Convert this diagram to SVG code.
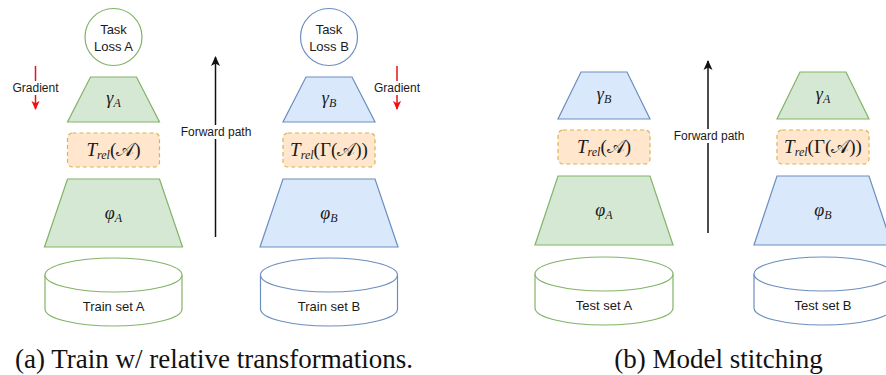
<svg xmlns="http://www.w3.org/2000/svg" width="886" height="375" viewBox="0 0 886 375">
<defs>
<style>
.g{fill:#d5e8d4;stroke:#82b366;stroke-width:1.2}
.b{fill:#dae8fc;stroke:#6c8ebf;stroke-width:1.2}
.o{fill:#ffe6cc;stroke:#d6b656;stroke-width:1.2;stroke-dasharray:4 3}
.cg{fill:#ffffff;stroke:#82b366;stroke-width:1.2}
.cb{fill:#ffffff;stroke:#6c8ebf;stroke-width:1.2}
.lbl{font-family:"Liberation Sans",Arial,sans-serif;font-size:13px;fill:#1a1a1a;text-anchor:middle}
.sm{font-family:"Liberation Sans",Arial,sans-serif;font-size:12px;fill:#1a1a1a;text-anchor:middle}
.m{font-family:"Liberation Serif","DejaVu Serif",serif;fill:#1a1a1a;text-anchor:middle}
.cap{font-family:"Liberation Serif","Times New Roman",serif;font-size:27px;fill:#111;text-anchor:middle}
.fwd{stroke:#111;stroke-width:1.5;fill:none}
.grd{stroke:#ee1111;stroke-width:1.5;fill:none}
</style>
<marker id="ak" viewBox="0 0 10 10" refX="9" refY="5" markerWidth="10" markerHeight="10" markerUnits="userSpaceOnUse" orient="auto">
<path d="M0,0.5 L10,5 L0,9.5 L2.5,5 z" fill="#111"/>
</marker>
<marker id="ar" viewBox="0 0 10 10" refX="9" refY="5" markerWidth="9" markerHeight="9" markerUnits="userSpaceOnUse" orient="auto">
<path d="M0,0.5 L10,5 L0,9.5 L2.5,5 z" fill="#ee1111"/>
</marker>
</defs>
<rect width="886" height="375" fill="#ffffff"/>

<g id="connectors">
<line class="fwd" x1="215.5" y1="237" x2="215.5" y2="57" marker-end="url(#ak)"/>
<rect x="180" y="125" width="72" height="14" fill="#ffffff"/>
<text class="sm" x="216" y="136">Forward path</text>
<line class="fwd" x1="708" y1="233" x2="708" y2="61" marker-end="url(#ak)"/>
<rect x="672" y="129" width="74" height="14" fill="#ffffff"/>
<text class="sm" x="709" y="140">Forward path</text>
<line class="grd" x1="35.5" y1="66" x2="35.5" y2="109" marker-end="url(#ar)"/>
<rect x="11" y="81" width="49" height="14" fill="#ffffff"/>
<text class="sm" x="35.5" y="92">Gradient</text>
<line class="grd" x1="397" y1="66" x2="397" y2="109" marker-end="url(#ar)"/>
<rect x="372" y="81" width="50" height="14" fill="#ffffff"/>
<text class="sm" x="397" y="92">Gradient</text>
</g>

<!-- Panel (a), column A -->
<g id="taskLossA">
<circle class="cg" cx="113.5" cy="37" r="28.5"/>
<text class="lbl" x="113.5" y="33.5">Task</text>
<text class="lbl" x="113.5" y="50.5">Loss A</text>
</g>
<g id="gammaA_train">
<polygon class="g" points="90.5,77 136.5,77 159.5,122 67.5,122"/>
<text class="m" x="113.5" y="104"><tspan font-size="18" font-style="italic">γ</tspan><tspan font-size="12" font-style="italic" dy="3">A</tspan></text>
</g>
<g id="trelA_train">
<rect class="o" x="67.5" y="133" width="92" height="34" rx="5"/>
<text class="m" x="113.5" y="156"><tspan font-size="19" font-style="italic">T</tspan><tspan font-size="12" font-style="italic" dy="3">rel</tspan><tspan font-size="19" dy="-3">(𝒜)</tspan></text>
</g>
<g id="phiA_train">
<polygon class="g" points="67.5,179 159.5,179 182.5,247 44.5,247"/>
<text class="m" x="113.5" y="219"><tspan font-size="18" font-style="italic">φ</tspan><tspan font-size="12" font-style="italic" dy="3">A</tspan></text>
</g>
<g id="trainSetA">
<path class="cg" d="M45,275 L45,309 A68.5,17 0 0 0 182,309 L182,275"/>
<ellipse class="cg" cx="113.5" cy="275" rx="68.5" ry="17"/>
<text class="lbl" x="113.5" y="311">Train set A</text>
</g>

<!-- Panel (a), column B -->
<g id="taskLossB">
<circle class="cb" cx="329" cy="37" r="28.5"/>
<text class="lbl" x="329" y="33.5">Task</text>
<text class="lbl" x="329" y="50.5">Loss B</text>
</g>
<g id="gammaB_train">
<polygon class="b" points="306,77 352,77 375,122 283,122"/>
<text class="m" x="329" y="104"><tspan font-size="18" font-style="italic">γ</tspan><tspan font-size="12" font-style="italic" dy="3">B</tspan></text>
</g>
<g id="trelB_train">
<rect class="o" x="283" y="133" width="92" height="34" rx="5"/>
<text class="m" x="329" y="156"><tspan font-size="19" font-style="italic">T</tspan><tspan font-size="12" font-style="italic" dy="3">rel</tspan><tspan font-size="19" dy="-3">(Γ(𝒜))</tspan></text>
</g>
<g id="phiB_train">
<polygon class="b" points="283,179 375,179 398,247 260,247"/>
<text class="m" x="329" y="219"><tspan font-size="18" font-style="italic">φ</tspan><tspan font-size="12" font-style="italic" dy="3">B</tspan></text>
</g>
<g id="trainSetB">
<path class="cb" d="M260.5,275 L260.5,309 A68.5,17 0 0 0 397.5,309 L397.5,275"/>
<ellipse class="cb" cx="329" cy="275" rx="68.5" ry="17"/>
<text class="lbl" x="329" y="311">Train set B</text>
</g>

<!-- Panel (b), left column -->
<g id="gammaB_stitch">
<polygon class="b" points="581,72 627,72 650,119 558,119"/>
<text class="m" x="604" y="100"><tspan font-size="18" font-style="italic">γ</tspan><tspan font-size="12" font-style="italic" dy="3">B</tspan></text>
</g>
<g id="trelA_stitch">
<rect class="o" x="558" y="130" width="92" height="34" rx="5"/>
<text class="m" x="604" y="153"><tspan font-size="19" font-style="italic">T</tspan><tspan font-size="12" font-style="italic" dy="3">rel</tspan><tspan font-size="19" dy="-3">(𝒜)</tspan></text>
</g>
<g id="phiA_stitch">
<polygon class="g" points="558,176 650,176 673,245 535,245"/>
<text class="m" x="604" y="216"><tspan font-size="18" font-style="italic">φ</tspan><tspan font-size="12" font-style="italic" dy="3">A</tspan></text>
</g>
<g id="testSetA">
<path class="cg" d="M535,274 L535,308 A69,17 0 0 0 673,308 L673,274"/>
<ellipse class="cg" cx="604" cy="274" rx="69" ry="17"/>
<text class="lbl" x="604" y="310">Test set A</text>
</g>

<!-- Panel (b), right column -->
<g id="gammaA_stitch">
<polygon class="g" points="800,72 846,72 869,119 777,119"/>
<text class="m" x="823" y="100"><tspan font-size="18" font-style="italic">γ</tspan><tspan font-size="12" font-style="italic" dy="3">A</tspan></text>
</g>
<g id="trelB_stitch">
<rect class="o" x="777" y="130" width="92" height="34" rx="5"/>
<text class="m" x="823" y="153"><tspan font-size="19" font-style="italic">T</tspan><tspan font-size="12" font-style="italic" dy="3">rel</tspan><tspan font-size="19" dy="-3">(Γ(𝒜))</tspan></text>
</g>
<g id="phiB_stitch">
<polygon class="b" points="777,176 869,176 892,245 754,245"/>
<text class="m" x="823" y="216"><tspan font-size="18" font-style="italic">φ</tspan><tspan font-size="12" font-style="italic" dy="3">B</tspan></text>
</g>
<g id="testSetB">
<path class="cb" d="M754,274 L754,308 A69,17 0 0 0 892,308 L892,274"/>
<ellipse class="cb" cx="823" cy="274" rx="69" ry="17"/>
<text class="lbl" x="823" y="310">Test set B</text>
</g>

<g id="captions">
<text class="cap" x="214" y="368">(a) Train w/ relative transformations.</text>
<text class="cap" x="718.5" y="368">(b) Model stitching</text>
</g>
</svg>
